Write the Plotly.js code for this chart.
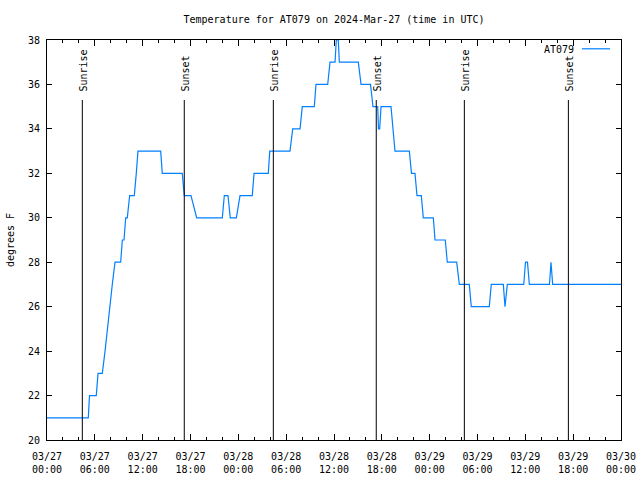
<!DOCTYPE html>
<html><head><meta charset="utf-8">
<script src="https://cdn.plot.ly/plotly-3.0.1.min.js"></script>
<style>body{margin:0;background:#fff}</style>
</head><body><div id="chart" style="width:640px;height:480px"></div>
<script>
// Hours after 2024-03-27 00:00 UTC
const tempHours = [0, 5.18, 5.33, 6.18, 6.40, 6.94, 7.28, 7.56, 7.86, 8.19, 8.53, 9.24, 9.45, 9.66, 9.87, 10.07, 10.37, 10.95, 11.20, 11.41,
  14.26, 14.46, 16.97, 17.22, 18.06, 18.78, 21.99, 22.24, 22.70, 22.99, 23.75, 24.21, 25.75, 25.97, 27.76, 27.94,
  30.48, 30.82, 31.74, 32.02, 33.53, 33.74, 35.21, 35.50, 36.13, 36.29, 36.54, 36.67, 39.05, 39.39, 40.58, 40.89,
  41.48, 41.58, 41.73, 41.90, 43.15, 43.44, 43.65, 45.45, 45.72, 46.16, 46.41, 46.95, 47.20, 48.46, 48.67, 49.96,
  50.21, 51.39, 51.72, 52.97, 53.22, 55.48, 55.73, 57.24, 57.45, 57.74, 59.80, 60.02, 60.27, 60.50, 63.03, 63.22,
  63.43, 72.00];
const tempValues = [21, 21, 22, 22, 23, 23, 24, 25, 26, 27, 28, 28, 29, 29, 30, 30, 31, 31, 32, 33,
  33, 32, 32, 31, 31, 30, 30, 31, 31, 30, 30, 31, 31, 32, 32, 33,
  33, 34, 34, 35, 35, 36, 36, 37, 37, 38, 38, 37, 37, 36, 36, 35,
  35, 34, 34, 35, 35, 34, 33, 33, 32, 32, 31, 31, 30, 30, 29, 29,
  28, 28, 27, 27, 26, 26, 27, 27, 26, 27, 27, 28, 28, 27, 27, 28,
  27, 27];
const sunEventHours = [4.43, 17.22, 28.39, 41.30, 52.35, 65.40];
const sunEventLabels = ['Sunrise', 'Sunset', 'Sunrise', 'Sunset', 'Sunrise', 'Sunset'];
const yTickValues = [20, 22, 24, 26, 28, 30, 32, 34, 36, 38];
const seriesName = 'AT079';

function toDate(h) {
  const ms = Date.UTC(2024, 2, 27) + Math.round(h * 3600000);
  return new Date(ms).toISOString().replace('T', ' ').slice(0, 19);
}

const FONT = {family: '"DejaVu Sans Mono", "Liberation Mono", monospace', size: 10, color: '#000'};
const lineTop = 0.85;

const shapes = sunEventHours.map(h => ({
  type: 'line', xref: 'x', yref: 'paper', x0: toDate(h), x1: toDate(h), y0: 0, y1: lineTop,
  line: {color: '#000', width: 1}
}));
shapes.push({type: 'line', xref: 'paper', yref: 'paper', x0: 0.932, x1: 0.981, y0: 0.978, y1: 0.978,
  line: {color: 'rgb(0,128,255)', width: 1.2}});

const annotations = sunEventHours.map((h, i) => ({
  x: toDate(h), xref: 'x', y: lineTop + 0.017, yref: 'paper', text: sunEventLabels[i],
  textangle: -90, showarrow: false, xanchor: 'center', yanchor: 'bottom', font: FONT, xshift: 1
}));
annotations.push({x: 0.922, xref: 'paper', y: 0.976, yref: 'paper', text: seriesName, showarrow: false,
  xanchor: 'right', yanchor: 'middle', font: FONT});

const trace = {
  x: tempHours.map(toDate), y: tempValues, type: 'scatter', mode: 'lines', name: seriesName,
  line: {color: 'rgb(0,128,255)', width: 1.2}
};

const layout = {
  width: 640, height: 480,
  margin: {l: 47, r: 19, t: 40, b: 40},
  paper_bgcolor: '#fff', plot_bgcolor: '#fff',
  font: FONT,
  showlegend: false,
  title: {text: 'Temperature for AT079 on 2024-Mar-27 (time in UTC)', font: FONT,
    x: 0.5, xref: 'paper', y: 1 - 19 / 480, yref: 'container', yanchor: 'middle'},
  xaxis: {
    type: 'date', range: [toDate(0), toDate(72)], tick0: toDate(0), dtick: 21600000,
    tickformat: '%m/%d<br>%H:%M', ticks: 'inside', ticklen: 6, tickcolor: '#000', tickwidth: 1,
    showline: true, linecolor: '#000', linewidth: 1, mirror: 'ticks', showgrid: false, zeroline: false,
    tickfont: FONT, ticklabelstandoff: 7,
    minor: {dtick: 7200000, tick0: toDate(0), ticks: 'inside', ticklen: 3, tickcolor: '#000', showgrid: false}
  },
  yaxis: {
    range: [20, 38], tickvals: yTickValues, ticks: 'inside', ticklen: 5, tickcolor: '#000',
    showline: true, linecolor: '#000', linewidth: 1, mirror: 'ticks', showgrid: false, zeroline: false,
    tickfont: FONT, ticklabelstandoff: 4, title: {text: 'degrees F', font: FONT, standoff: 11}
  },
  shapes: shapes,
  annotations: annotations
};

Plotly.newPlot('chart', [trace], layout, {displayModeBar: false, staticPlot: true});
</script>
</body></html>
